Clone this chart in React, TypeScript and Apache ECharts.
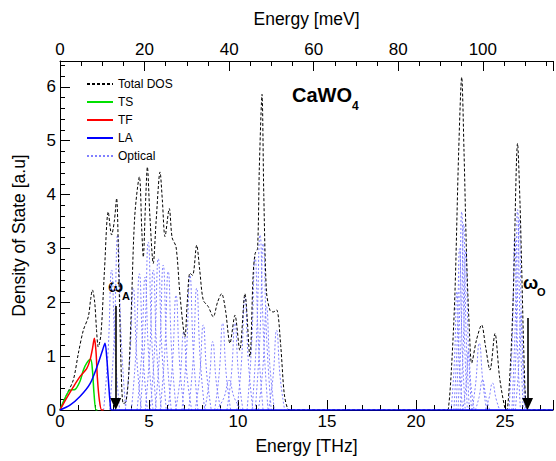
import React, { useEffect, useRef } from 'react';
import * as echarts from 'echarts';

// Energy axis (THz) / Density of states (a.u.)
const totalDOS: number[][] = [
  [0, 0], [0.37, 0.28], [0.75, 0.56], [1.03, 1.05], [1.31, 1.48], [1.59, 1.73], [1.72, 2.05], [1.82, 2.23],
  [1.95, 2.0], [2.05, 1.5], [2.15, 1.17], [2.3, 1.4], [2.5, 2.6], [2.71, 3.68], [2.9, 3.25], [3.05, 3.5],
  [3.18, 3.93], [3.3, 2.6], [3.45, 0.6], [3.56, 0.12], [3.7, 0.15], [3.85, 0.6], [4.0, 1.8], [4.2, 3.6],
  [4.46, 4.33], [4.6, 3.3], [4.68, 2.84], [4.8, 3.8], [4.91, 4.51], [5.05, 3.6], [5.24, 2.72], [5.4, 3.5],
  [5.62, 4.42], [5.75, 3.9], [5.9, 3.22], [6.14, 3.74], [6.3, 3.2], [6.52, 3.03], [6.75, 2.1], [7.02, 1.36],
  [7.15, 2.0], [7.3, 2.54], [7.45, 2.5], [7.68, 3.06], [7.85, 2.6], [8.05, 2.04], [8.33, 1.92], [8.61, 1.73],
  [8.85, 2.0], [9.08, 2.16], [9.3, 1.85], [9.55, 1.24], [9.83, 1.76], [10.1, 1.11], [10.39, 2.16], [10.67, 0.99],
  [10.85, 2.5], [10.96, 2.9], [11.1, 3.0], [11.2, 4.5], [11.35, 5.86], [11.45, 4.0], [11.6, 2.2], [11.8, 1.85],
  [11.98, 1.82], [12.17, 1.86], [12.4, 1.2], [12.6, 0.3], [12.8, 0.02], [13.0, 0], [21.7, 0], [21.82, 0.02],
  [22.0, 0.8], [22.19, 2.17], [22.4, 4.8], [22.57, 6.18], [22.7, 4.8], [22.85, 2.78], [23.0, 1.5], [23.13, 0.87],
  [23.4, 1.3], [23.69, 1.58], [23.9, 1.2], [24.16, 0.74], [24.44, 1.42], [24.7, 0.6], [25.0, 0.03], [25.1, 0],
  [25.3, 0.8], [25.47, 2.16], [25.71, 4.95], [25.85, 3.8], [25.93, 2.78], [26.05, 1.2], [26.18, 0.06], [26.3, 0],
  [27.7, 0],
];

const tsDOS: number[][] = [
  [0, 0], [0.28, 0.22], [0.56, 0.37], [0.84, 0.38], [1.12, 0.53], [1.31, 0.74], [1.5, 0.87], [1.72, 0.94],
  [1.82, 0.75], [1.91, 0.31], [2.02, 0], [2.1, 0],
];

const tfDOS: number[][] = [
  [0, 0], [0.37, 0.22], [0.75, 0.43], [1.12, 0.62], [1.5, 0.77], [1.69, 0.93], [1.83, 1.15], [1.93, 1.33],
  [2.02, 1.1], [2.1, 0.6], [2.21, 0.19], [2.34, 0], [2.45, 0],
];

const laDOS: number[][] = [
  [0, 0], [0.56, 0.09], [1.12, 0.25], [1.69, 0.49], [2.15, 0.87], [2.4, 1.12], [2.53, 1.24], [2.62, 1.0],
  [2.72, 0.55], [2.82, 0.12], [2.9, 0], [27.7, 0],
];

const opticalBranches: number[][][] = [
  [[2.45, 0], [2.7, 1.07], [2.9, 2.6], [3.1, 1.07], [3.35, 0]],
  [[2.79, 0], [3.04, 1.33], [3.24, 3.25], [3.44, 1.33], [3.69, 0]],
  [[3.67, 0], [3.92, 0.93], [4.12, 2.26], [4.32, 0.93], [4.57, 0]],
  [[4.01, 0], [4.26, 1.04], [4.46, 2.53], [4.66, 1.04], [4.91, 0]],
  [[4.33, 0], [4.58, 1.01], [4.78, 2.47], [4.98, 1.01], [5.23, 0]],
  [[4.51, 0], [4.76, 1.28], [4.96, 3.12], [5.16, 1.28], [5.41, 0]],
  [[4.79, 0], [5.04, 1.07], [5.24, 2.6], [5.44, 1.07], [5.69, 0]],
  [[5.07, 0], [5.32, 1.15], [5.52, 2.81], [5.72, 1.15], [5.97, 0]],
  [[5.35, 0], [5.6, 1.1], [5.8, 2.69], [6.0, 1.1], [6.25, 0]],
  [[5.63, 0], [5.88, 1.05], [6.08, 2.57], [6.28, 1.05], [6.53, 0]],
  [[6.07, 0], [6.32, 0.87], [6.52, 2.13], [6.72, 0.87], [6.97, 0]],
  [[6.5, 0], [6.75, 0.59], [6.95, 1.45], [7.15, 0.59], [7.4, 0]],
  [[6.85, 0], [7.1, 1.03], [7.3, 2.5], [7.5, 1.03], [7.75, 0]],
  [[7.23, 0], [7.48, 0.93], [7.68, 2.26], [7.88, 0.93], [8.13, 0]],
  [[7.6, 0], [7.85, 0.65], [8.05, 1.58], [8.25, 0.65], [8.5, 0]],
  [[8.13, 0], [8.38, 0.52], [8.58, 1.27], [8.78, 0.52], [9.03, 0]],
  [[8.69, 0], [8.94, 0.66], [9.14, 1.61], [9.34, 0.66], [9.59, 0]],
  [[8.8, 0], [9.2, 0.22], [9.5, 0.55], [9.8, 0.22], [10.2, 0]],
  [[9.38, 0], [9.63, 0.66], [9.83, 1.61], [10.03, 0.66], [10.28, 0]],
  [[9.94, 0], [10.19, 0.86], [10.39, 2.1], [10.59, 0.86], [10.84, 0]],
  [[10.51, 0], [10.76, 1.16], [10.96, 2.84], [11.16, 1.16], [11.41, 0]],
  [[10.79, 0], [11.04, 1.33], [11.24, 3.25], [11.44, 1.33], [11.69, 0]],
  [[10.97, 0], [11.22, 1.27], [11.42, 3.09], [11.62, 1.27], [11.87, 0]],
  [[11.15, 0], [11.4, 0.79], [11.6, 1.92], [11.8, 0.79], [12.05, 0]],
  [[11.72, 0], [11.97, 0.61], [12.17, 1.48], [12.37, 0.61], [12.62, 0]],
  [[21.98, 0], [22.16, 0.9], [22.3, 2.2], [22.44, 0.9], [22.62, 0]],
  [[22.13, 0], [22.31, 1.23], [22.45, 3.0], [22.59, 1.23], [22.77, 0]],
  [[22.25, 0], [22.43, 1.51], [22.57, 3.68], [22.71, 1.51], [22.89, 0]],
  [[22.36, 0], [22.54, 1.41], [22.68, 3.45], [22.82, 1.41], [23.0, 0]],
  [[22.48, 0], [22.66, 1.21], [22.8, 2.95], [22.94, 1.21], [23.12, 0]],
  [[22.63, 0], [22.81, 0.45], [22.95, 1.1], [23.09, 0.45], [23.27, 0]],
  [[23.16, 0], [23.36, 0.51], [23.56, 1.24], [23.76, 0.51], [23.96, 0]],
  [[23.34, 0], [23.54, 0.23], [23.74, 0.56], [23.94, 0.23], [24.14, 0]],
  [[23.9, 0], [24.1, 0.21], [24.3, 0.5], [24.5, 0.21], [24.7, 0]],
  [[25.23, 0], [25.41, 1.31], [25.55, 3.2], [25.69, 1.31], [25.87, 0]],
  [[25.39, 0], [25.57, 1.53], [25.71, 3.72], [25.85, 1.53], [26.03, 0]],
  [[25.48, 0], [25.66, 1.46], [25.8, 3.55], [25.94, 1.46], [26.12, 0]],
  [[25.58, 0], [25.76, 0.74], [25.9, 1.8], [26.04, 0.74], [26.22, 0]],
];

// Arrow annotations: [energy THz, arrow top DOS]
const omegaA: number[] = [3.13, 1.93];
const omegaO: number[] = [26.27, 1.71];

const legendNames: string[] = ['Total DOS', 'TS', 'TF', 'LA', 'Optical'];

const FONT = 'Liberation Sans, Arial, Helvetica, sans-serif';

export default function App() {
  const ref = useRef<HTMLDivElement>(null);
  useEffect(() => {
    if (!ref.current) return;
    const chart = echarts.init(ref.current, undefined, { renderer: 'svg' });
    const opticalSeries = opticalBranches.map((d) => ({
      name: 'Optical',
      type: 'line',
      data: d,
      smooth: 0.5,
      symbol: 'none',
      xAxisIndex: 0,
      lineStyle: { color: '#8080ff', width: 1, type: [2, 2] },
      itemStyle: { color: '#8080ff' },
      z: 2,
      silent: true,
    }));
    const arrowStyle = { color: '#000', width: 1.6, type: 'solid' };
    chart.setOption({
      animation: false,
      textStyle: { fontFamily: FONT },
      grid: { left: 60, right: 3, top: 61, bottom: 51 },
      legend: {
        orient: 'vertical',
        left: 86,
        top: 78,
        padding: 0,
        itemWidth: 26,
        itemHeight: 12,
        itemGap: 6,
        itemStyle: { opacity: 0 },
        data: legendNames,
        textStyle: { fontSize: 12, color: '#000', fontFamily: FONT },
      },
      xAxis: [
        {
          type: 'value',
          position: 'bottom',
          min: 0,
          max: 27.7,
          interval: 5,
          name: 'Energy [THz]',
          nameLocation: 'middle',
          nameGap: 27,
          nameTextStyle: { fontSize: 17.5, color: '#000', fontFamily: FONT },
          axisLine: { show: true, onZero: false, lineStyle: { color: '#000', width: 1 } },
          axisTick: { show: true, inside: true, length: 10, lineStyle: { color: '#000' } },
          minorTick: { show: true, splitNumber: 5, length: 5, lineStyle: { color: '#000' } },
          axisLabel: { fontSize: 17, color: '#000', margin: 3, showMaxLabel: false, fontFamily: FONT },
          splitLine: { show: false },
        },
        {
          type: 'value',
          position: 'top',
          min: 0,
          max: 116.6,
          interval: 20,
          name: 'Energy [meV]',
          nameLocation: 'middle',
          nameGap: 33,
          nameTextStyle: { fontSize: 17.5, color: '#000', fontFamily: FONT },
          axisLine: { show: true, onZero: false, lineStyle: { color: '#000', width: 1 } },
          axisTick: { show: true, inside: true, length: 10, lineStyle: { color: '#000' } },
          minorTick: { show: true, splitNumber: 4, length: 5, lineStyle: { color: '#000' } },
          axisLabel: { fontSize: 17, color: '#000', margin: 3, showMaxLabel: false, fontFamily: FONT },
          splitLine: { show: false },
        },
      ],
      yAxis: {
        type: 'value',
        min: 0,
        max: 6.48,
        interval: 1,
        name: 'Density of State [a.u]',
        nameLocation: 'middle',
        nameGap: 32,
        nameTextStyle: { fontSize: 17.5, color: '#000', fontFamily: FONT },
        axisLine: { show: true, onZero: false, lineStyle: { color: '#000', width: 1 } },
        axisTick: { show: true, inside: true, length: 10, lineStyle: { color: '#000' } },
        minorTick: { show: true, splitNumber: 5, length: 5, lineStyle: { color: '#000' } },
        axisLabel: { fontSize: 17, color: '#000', margin: 4, showMaxLabel: false, fontFamily: FONT },
        splitLine: { show: false },
      },
      series: [
        ...opticalSeries,
        {
          name: 'Total DOS',
          type: 'line',
          data: totalDOS,
          smooth: 0.3,
          symbol: 'none',
          lineStyle: { color: '#000', width: 1, type: [3, 2] },
          itemStyle: { color: '#000' },
          z: 3,
          markLine: {
            silent: true,
            symbol: ['none', 'triangle'],
            symbolSize: [11, 12],
            label: { show: false },
            lineStyle: arrowStyle,
            itemStyle: { color: '#000' },
            data: [
              [{ coord: [omegaA[0], omegaA[1]] }, { coord: [omegaA[0], 0.11] }],
              [{ coord: [omegaO[0], omegaO[1]] }, { coord: [omegaO[0], 0.11] }],
            ],
          },
        },
        {
          name: 'TS',
          type: 'line',
          data: tsDOS,
          smooth: 0.3,
          symbol: 'none',
          lineStyle: { color: '#00e000', width: 1.5 },
          itemStyle: { color: '#00e000' },
          z: 4,
        },
        {
          name: 'TF',
          type: 'line',
          data: tfDOS,
          smooth: 0.3,
          symbol: 'none',
          lineStyle: { color: '#ff0000', width: 1.5 },
          itemStyle: { color: '#ff0000' },
          z: 4,
        },
        {
          name: 'LA',
          type: 'line',
          data: laDOS,
          smooth: 0.3,
          symbol: 'none',
          lineStyle: { color: '#0000ff', width: 1.5 },
          itemStyle: { color: '#0000ff' },
          z: 4,
        },
      ],
      graphic: [
        { type: 'text', left: 292, top: 85, style: { text: 'CaWO', font: `bold 20px ${FONT}`, fill: '#000' } },
        { type: 'text', left: 352, top: 100, style: { text: '4', font: `bold 12px ${FONT}`, fill: '#000' } },
        { type: 'text', left: 108, top: 277, style: { text: 'ω', font: `bold 18px ${FONT}`, fill: '#000' } },
        { type: 'text', left: 122, top: 290, style: { text: 'A', font: `bold 11px ${FONT}`, fill: '#000' } },
        { type: 'text', left: 523, top: 274, style: { text: 'ω', font: `bold 18px ${FONT}`, fill: '#000' } },
        { type: 'text', left: 537, top: 286, style: { text: 'O', font: `bold 11px ${FONT}`, fill: '#000' } },
      ],
    });
    return () => chart.dispose();
  }, []);
  return (
    <div
      ref={ref}
      style={{ position: 'fixed', left: 0, top: 0, width: 556, height: 461, background: '#fff' }}
    />
  );
}
